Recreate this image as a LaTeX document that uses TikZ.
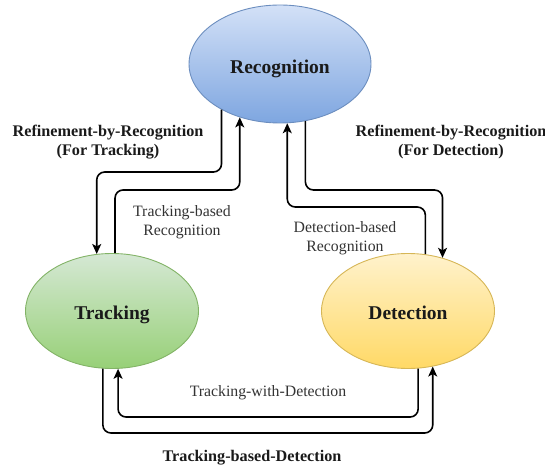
\documentclass[tikz,border=0pt]{standalone}
\usepackage{fontspec}
\setmainfont{Liberation Serif}
\usetikzlibrary{shapes.geometric,arrows.meta,calc}
\definecolor{recTop}{HTML}{D3E1F7}
\definecolor{recBot}{HTML}{7EA6E0}
\definecolor{recLine}{HTML}{6C8EBF}
\definecolor{trkTop}{HTML}{D5E8D4}
\definecolor{trkBot}{HTML}{97D077}
\definecolor{trkLine}{HTML}{82B366}
\definecolor{detTop}{HTML}{FFF2CC}
\definecolor{detBot}{HTML}{FFD966}
\definecolor{detLine}{HTML}{D6B656}
\definecolor{txt}{HTML}{1A1A1A}
\definecolor{ltxt}{HTML}{333333}
\tikzset{
  state/.style={ellipse, draw, line width=0.9pt, inner sep=0pt,
    font=\fontsize{19.5}{21}\selectfont\bfseries, text=txt, text depth=4pt},
  arr/.style={line width=1.6pt, rounded corners=8pt, draw=black,
    -{Stealth[length=10pt,width=9pt,inset=2.5pt]}},
  boldlbl/.style={font=\fontsize{16.2}{19}\selectfont\bfseries, text=txt, align=center},
  lbl/.style={font=\fontsize{15.8}{19}\selectfont, text=ltxt, align=center}
}
\begin{document}
\begin{tikzpicture}[x=1pt,y=-1pt]
\useasboundingbox (0,0) rectangle (545,470);
\node[state, minimum width=182pt, minimum height=118pt, draw=recLine,
  top color=recTop, bottom color=recBot, text height=24pt] (rec) at (280,64) {Recognition};
\node[state, minimum width=173pt, minimum height=115pt, draw=trkLine,
  top color=trkTop, bottom color=trkBot, text height=20pt] (trk) at (112,311) {Tracking};
\node[state, minimum width=173pt, minimum height=115pt, draw=detLine,
  top color=detTop, bottom color=detBot, text height=20pt] (det) at (408,311) {Detection};

% left pair
\draw[arr] (rec.218) -- (rec.218 |- 0,172) -- (trk.105 |- 0,172) -- (trk.105);
\draw[arr] (trk.87) -- (trk.87 |- 0,190) -- (rec.233 |- 0,190) -- (rec.233);
% right pair
\draw[arr] (det.73) -- (det.73 |- 0,207) -- (rec.277 |- 0,207) -- (rec.277);
\draw[arr] (rec.294) -- (rec.294 |- 0,190) -- (det.57 |- 0,190) -- (det.57);
% bottom pair
\draw[arr] (det.280) -- (det.280 |- 0,417) -- (trk.276 |- 0,417) -- (trk.276);
\draw[arr] (trk.261) -- (trk.261 |- 0,433) -- (det.294 |- 0,433) -- (det.294);

\node[boldlbl] (l1) at (108,142) {Refinement-by-Recognition\\(For Tracking)};
\node[boldlbl] (l2) at (451,142) {Refinement-by-Recognition\\(For Detection)};
\node[lbl] (l3) at (182,222) {Tracking-based\\Recognition};
\node[lbl] (l4) at (345,238) {Detection-based\\Recognition};
\node[lbl] (l5) at (268,393) {Tracking-with-Detection};
\node[boldlbl] (l6) at (252,458) {Tracking-based-Detection};
\end{tikzpicture}
\end{document}
